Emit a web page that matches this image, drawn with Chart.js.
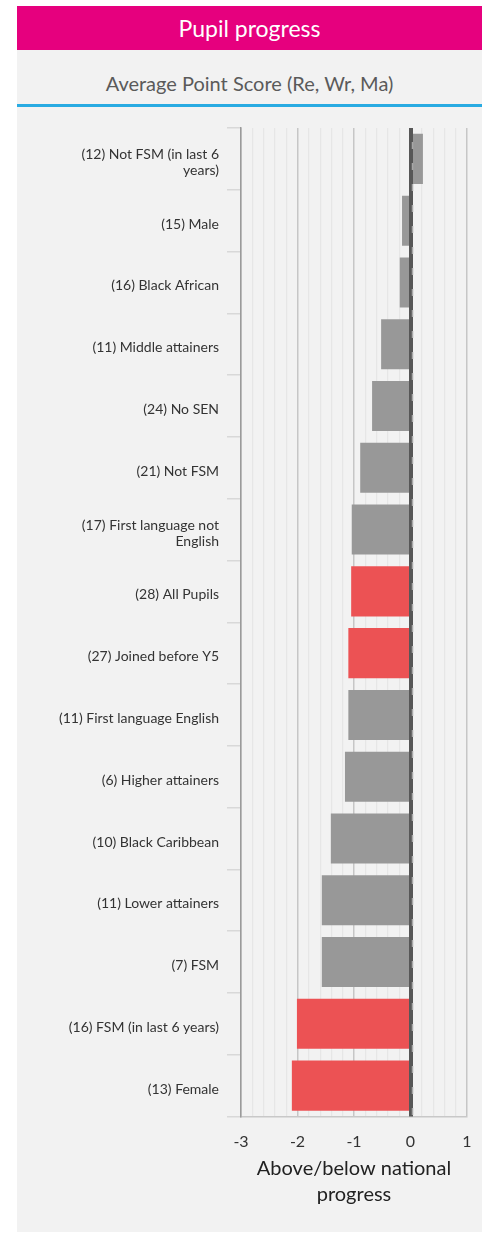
<!DOCTYPE html>
<html>
<head>
<meta charset="utf-8">
<script src="https://cdn.jsdelivr.net/npm/chart.js@4"></script>
<style>
	body { margin: 0; background: #fff; font-family: Lato, sans-serif; }
	.card { position: absolute; left: 17px; top: 6px; width: 465px; height: 1226px; background: #f2f2f2; }
	.card-header { height: 44px; line-height: 44px; background: #e6007e; color: #fff; text-align: center; font-size: 23px; }
	.card-sub { height: 42px; padding-top: 12px; line-height: 42px; text-align: center; color: #5a5a5a; font-size: 20px; }
	.card-rule { height: 3px; background: #29abe2; }
	.chart-box { position: relative; width: 465px; height: 1125px; }
</style>
</head>
<body>
<div class="card">
	<div class="card-header">Pupil progress</div>
	<div class="card-sub">Average Point Score (Re, Wr, Ma)</div>
	<div class="card-rule"></div>
	<div class="chart-box"><canvas id="progress-chart"></canvas></div>
</div>
<script>
const categories = [
	['(12) Not FSM (in last 6', 'years)'],
	'(15) Male',
	'(16) Black African',
	'(11) Middle attainers',
	'(24) No SEN',
	'(21) Not FSM',
	['(17) First language not', 'English'],
	'(28) All Pupils',
	'(27) Joined before Y5',
	'(11) First language English',
	'(6) Higher attainers',
	'(10) Black Caribbean',
	'(11) Lower attainers',
	'(7) FSM',
	'(16) FSM (in last 6 years)',
	'(13) Female',
];
const progressValues = [0.22, -0.15, -0.19, -0.52, -0.68, -0.89, -1.04, -1.05, -1.1, -1.1, -1.16, -1.41, -1.57, -1.57, -2.01, -2.1];
// 1 = significantly below (red bar)
const belowFlags = [0, 0, 0, 0, 0, 0, 0, 1, 1, 0, 0, 0, 0, 0, 1, 1];
const xTickLabels = [-3, -2, -1, 0, 1];
const axisTitle = ['Above/below national', 'progress'];

const GREY = '#989898';
const RED = '#ec5254';

function isWhole(v) {
	return Math.abs(v - Math.round(v)) < 1e-6;
}

// dark zero line drawn over the bars
const zeroLine = {
	id: 'zeroLine',
	afterDatasetsDraw(chart) {
		const { ctx, chartArea } = chart;
		const x = chart.scales.x.getPixelForValue(0);
		ctx.save();
		ctx.strokeStyle = '#575757';
		ctx.lineWidth = 4;
		ctx.beginPath();
		ctx.moveTo(x + 0.5, chartArea.top);
		ctx.lineTo(x + 0.5, chartArea.bottom);
		ctx.stroke();
		ctx.strokeStyle = '#a8a8a8';
		ctx.lineWidth = 1.5;
		ctx.setLineDash([7, 14]);
		ctx.beginPath();
		ctx.moveTo(x + 2, chartArea.top + 14);
		ctx.lineTo(x + 2, chartArea.bottom);
		ctx.stroke();
		ctx.restore();
	},
};

new Chart(document.getElementById('progress-chart'), {
	type: 'bar',
	data: {
		labels: categories,
		datasets: [
			{
				data: progressValues,
				backgroundColor: belowFlags.map((f) => (f ? RED : GREY)),
				barPercentage: 0.81,
				categoryPercentage: 1,
			},
		],
	},
	options: {
		indexAxis: 'y',
		responsive: true,
		maintainAspectRatio: false,
		animation: false,
		layout: { padding: { top: 21, right: 15, left: 0, bottom: 0 } },
		plugins: { legend: { display: false }, tooltip: { enabled: false } },
		scales: {
			x: {
				min: xTickLabels[0],
				max: xTickLabels[xTickLabels.length - 1],
				afterFit(scale) {
					scale.height = 115.5;
					scale.paddingLeft = 0;
					scale.paddingRight = 0;
				},
				border: { color: '#c8c8c8', width: 1.5 },
				grid: {
					drawTicks: false,
					color: (ctx) => (isWhole(ctx.tick.value) ? '#c6c6c6' : '#e6e6e6'),
					lineWidth: (ctx) => (isWhole(ctx.tick.value) ? 1.5 : 1.2),
				},
				ticks: {
					stepSize: 0.2,
					autoSkip: false,
					maxRotation: 0,
					padding: 16,
					color: '#333',
					font: { family: 'Lato', size: 16 },
					callback: (v) => (isWhole(v) && xTickLabels.includes(Math.round(v)) ? String(Math.round(v)) : ''),
				},
				title: {
					display: true,
					text: axisTitle,
					color: '#222',
					font: { family: 'Lato', size: 20, lineHeight: 1.3 },
					padding: { top: 0, bottom: 24 },
				},
			},
			y: {
				afterFit(scale) {
					scale.width = 224;
				},
				border: { color: '#9a9a9a', width: 1.5 },
				grid: {
					drawOnChartArea: false,
					tickLength: 14,
					color: '#d8d8d8',
					lineWidth: 1.5,
				},
				ticks: {
					padding: 8,
					labelOffset: 3.5,
					color: '#333',
					font: { family: 'Lato', size: 14, lineHeight: 1.15 },
				},
			},
		},
	},
	plugins: [zeroLine],
});
</script>
</body>
</html>
